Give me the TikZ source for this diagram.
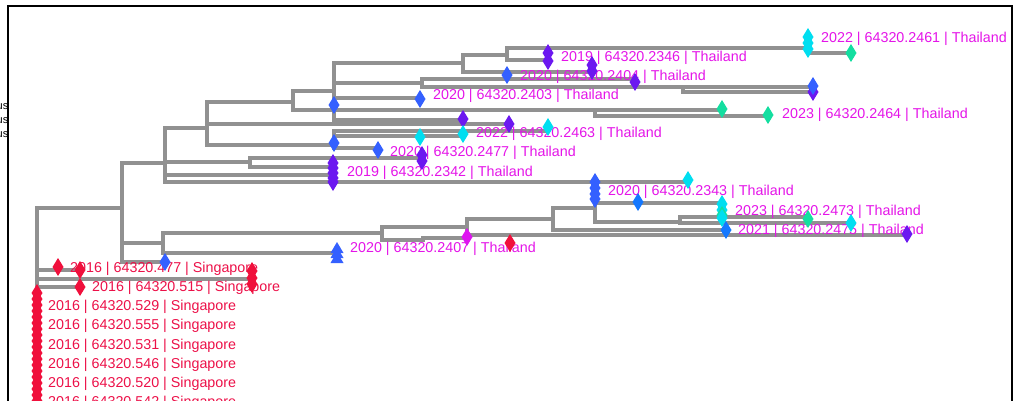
\documentclass[tikz,border=0pt]{standalone}
\usepackage{fontspec}
\setmainfont{Liberation Sans}
\definecolor{branch}{RGB}{145,145,145}
\definecolor{tha}{RGB}{228,20,232}
\definecolor{sgp}{RGB}{236,16,72}
\definecolor{cblue}{RGB}{52,96,255}
\definecolor{cazure}{RGB}{20,120,255}
\definecolor{cpurple}{RGB}{108,24,240}
\definecolor{ccyan}{RGB}{0,222,240}
\definecolor{cgreen}{RGB}{20,222,160}
\definecolor{cmag}{RGB}{222,20,240}
\definecolor{cred}{RGB}{240,16,60}

\tikzset{
  branchline/.style={draw=branch, line width=3.6pt, line cap=rect},
  tiplabel/.style={anchor=base west, inner sep=0pt, font=\fontsize{14.3}{16}\selectfont},
  sidetext/.style={anchor=base east, inner sep=0pt, font=\fontsize{11}{13}\selectfont},
  dmk/.pic={\fill (0,-9) -- (5.5,0) -- (0,9) -- (-5.5,0) -- cycle;},
  tmk/.pic={\fill (0,-7) -- (6.5,4) -- (-6.5,4) -- cycle;},
}

\begin{document}
\begin{tikzpicture}[x=1pt,y=-1pt]
\useasboundingbox (0,0) rectangle (1015,401);

% panel frame
\draw[line width=2pt] (8,430) -- (8,6) -- (1012,6) -- (1012,430);

% clipped legend entries on the left
\node[sidetext] (s1) at (8.5,110) {us};
\node[sidetext] (s2) at (8.5,124) {us};
\node[sidetext] (s3) at (8.5,138) {us};

% tree branches
\path[branchline]
  (37,420) -- (37,208) -- (122,208)
  (122,163) -- (122,262)
  (122,163) -- (165,163)
  (165,128) -- (165,182)
  (165,128) -- (207,128)
  (207,102) -- (207,145)
  (207,102) -- (293,102)
  (293,91) -- (293,110)
  (293,91) -- (334,91)
  (334,63) -- (334,120)
  (334,63) -- (463,63)
  (463,55) -- (463,72)
  (463,55) -- (507,55)
  (507,48) -- (507,60)
  (507,48) -- (808,48)
  (808,48) -- (808,53) -- (851,53)
  (507,60) -- (548,60)
  (463,72) -- (592,72)
  (334,83) -- (422,83)
  (422,79) -- (422,87)
  (422,79) -- (635,79)
  (422,87) -- (683,87)
  (683,87) -- (683,92)
  (683,87) -- (813,87)
  (683,92) -- (813,92)
  (334,98) -- (420,98)
  (293,110) -- (595,110)
  (595,110) -- (595,116)
  (595,110) -- (722,110)
  (595,116) -- (768,116)
  (334,120) -- (463,120)
  (207,124) -- (509,124)
  (207,145) -- (334,145)
  (334,131) -- (334,148)
  (334,131) -- (548,131)
  (334,136) -- (463,136)
  (334,148) -- (378,148)
  (165,162) -- (250,162)
  (250,158) -- (250,167)
  (250,158) -- (422,158)
  (250,167) -- (333,167)
  (165,175) -- (333,175)
  (165,182) -- (688,182)
  (122,243) -- (163,243)
  (163,233) -- (163,253)
  (163,253) -- (337,253)
  (163,233) -- (382,233)
  (382,227) -- (382,240)
  (382,240) -- (423,240) -- (423,238) -- (467,238)
  (382,227) -- (467,227)
  (467,219) -- (467,235)
  (467,235) -- (907,235)
  (467,219) -- (553,219)
  (553,208) -- (553,230)
  (553,208) -- (595,208)
  (595,203) -- (595,222)
  (595,203) -- (722,203)
  (595,222) -- (680,222)
  (680,217) -- (680,223)
  (680,217) -- (807,217)
  (680,223) -- (852,223)
  (553,230) -- (725,230)
  (122,262) -- (165,262)
  (37,270) -- (80,270)
  (37,279) -- (252,279)
  (37,287) -- (80,287);

% tip labels
\begin{scope}[tha]
\node[tiplabel] (t01) at (821,43) {2022 | 64320.2461 | Thailand};
\node[tiplabel] (t02) at (561,62) {2019 | 64320.2346 | Thailand};
\node[tiplabel] (t03) at (520,81) {2020 | 64320.2404 | Thailand};
\node[tiplabel] (t04) at (433,100) {2020 | 64320.2403 | Thailand};
\node[tiplabel] (t05) at (782,119) {2023 | 64320.2464 | Thailand};
\node[tiplabel] (t06) at (476,138) {2022 | 64320.2463 | Thailand};
\node[tiplabel] (t07) at (390,157) {2020 | 64320.2477 | Thailand};
\node[tiplabel] (t08) at (347,177) {2019 | 64320.2342 | Thailand};
\node[tiplabel] (t09) at (608,195) {2020 | 64320.2343 | Thailand};
\node[tiplabel] (t10) at (735,215) {2023 | 64320.2473 | Thailand};
\node[tiplabel] (t11) at (738,234) {2021 | 64320.2475 | Thailand};
\node[tiplabel] (t12) at (350,252) {2020 | 64320.2407 | Thailand};
\end{scope}
\begin{scope}[sgp]
\node[tiplabel] (t13) at (70,272) {2016 | 64320.477 | Singapore};
\node[tiplabel] (t14) at (92,291) {2016 | 64320.515 | Singapore};
\node[tiplabel] (t15) at (48,310) {2016 | 64320.529 | Singapore};
\node[tiplabel] (t16) at (48,329) {2016 | 64320.555 | Singapore};
\node[tiplabel] (t17) at (48,349) {2016 | 64320.531 | Singapore};
\node[tiplabel] (t18) at (48,368) {2016 | 64320.546 | Singapore};
\node[tiplabel] (t19) at (48,387) {2016 | 64320.520 | Singapore};
\node[tiplabel] (t20) at (48,406) {2016 | 64320.542 | Singapore};
\end{scope}

% markers
\foreach \y in {37,43,49} \pic[ccyan] at (808,\y) {dmk};
\pic[cgreen] at (851,53) {dmk};
\foreach \y in {53,61} \pic[cpurple] at (548,\y) {dmk};
\foreach \y in {65,71} \pic[cpurple] at (592,\y) {dmk};
\pic[cpurple] at (635,82) {dmk};
\pic[cblue] at (507,75) {dmk};
\pic[cblue] at (420,99) {dmk};
\pic[cblue] at (334,105) {dmk};
\pic[cpurple] at (813,92) {dmk};
\pic[cblue] at (813,86) {dmk};
\pic[cgreen] at (722,109) {dmk};
\pic[cgreen] at (768,115) {dmk};
\pic[cpurple] at (463,119) {dmk};
\pic[cpurple] at (509,124) {dmk};
\pic[ccyan] at (548,127) {dmk};
\pic[ccyan] at (463,134) {dmk};
\pic[ccyan] at (420,137) {dmk};
\pic[cblue] at (334,143) {dmk};
\pic[cblue] at (378,150) {dmk};
\foreach \y in {155,161} \pic[cpurple] at (422,\y) {dmk};
\foreach \y in {163,168,173,178,182} \pic[cpurple] at (333,\y) {dmk};
\foreach \y in {182,188,194,199} \pic[cblue] at (595,\y) {dmk};
\pic[ccyan] at (688,180) {dmk};
\pic[cazure] at (638,202) {dmk};
\foreach \y in {204,210} \pic[ccyan] at (722,\y) {dmk};
\pic[cgreen] at (722,215) {dmk};
\pic[ccyan] at (722,218) {dmk};
\pic[cgreen] at (808,219) {dmk};
\pic[ccyan] at (851,223) {dmk};
\pic[cazure] at (726,230) {dmk};
\pic[cpurple] at (907,234) {dmk};
\pic[cmag] at (467,237) {dmk};
\pic[cred] at (510,243) {dmk};
\foreach \y in {249,254,259} \pic[cblue] at (337,\y) {tmk};
\pic[cblue] at (165,262) {dmk};
\pic[cred] at (58,267) {dmk};
\foreach \y in {270,287} \pic[cred] at (80,\y) {dmk};
\foreach \y in {271,278,284} \pic[cred] at (252,\y) {dmk};
\foreach \y in {293,299,...,407} \pic[cred] at (37,\y) {dmk};
\end{tikzpicture}
\end{document}
